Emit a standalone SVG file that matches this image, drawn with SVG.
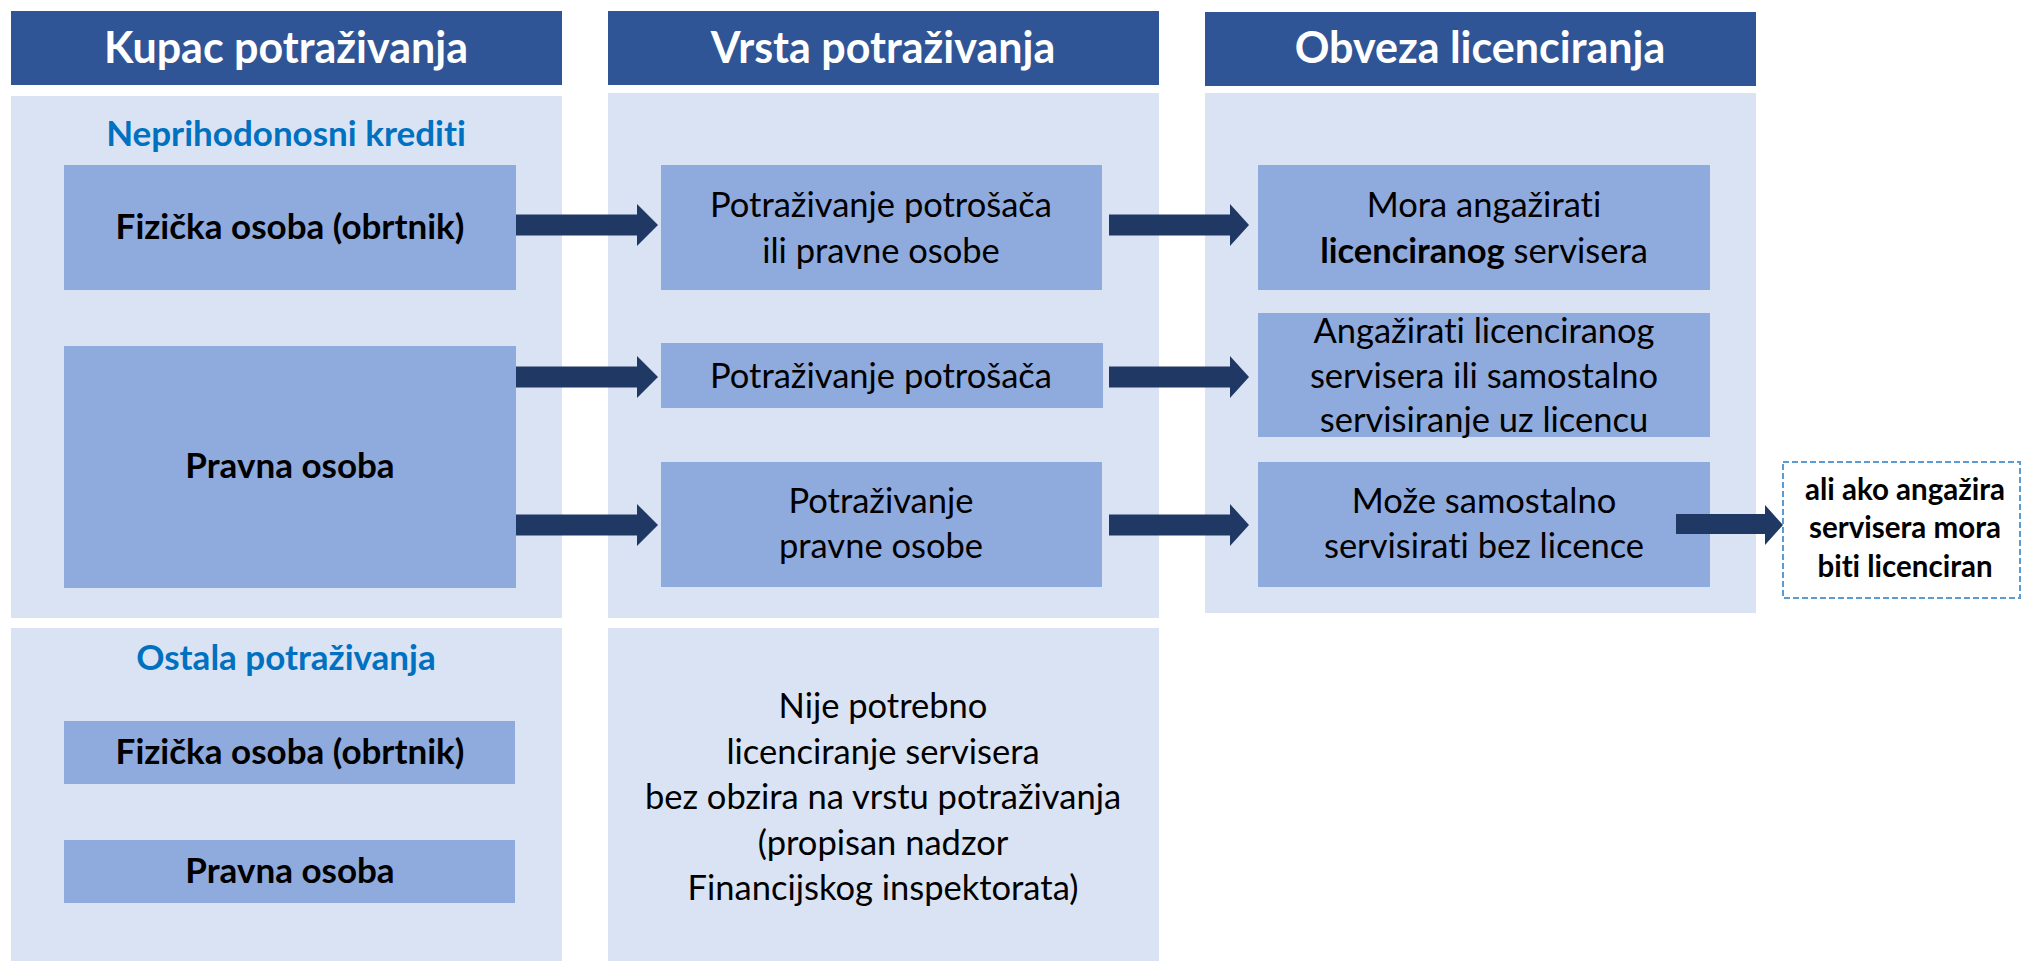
<svg xmlns="http://www.w3.org/2000/svg" width="2024" height="961" viewBox="0 0 2024 961">
<style>
text{font-variant-ligatures:none;font-feature-settings:"liga" 0,"dlig" 0}
.hdr{fill:#2f5597}
.pnl{fill:#dae3f3}
.box{fill:#8faadc}
.ht{font-family:Lato,"Liberation Sans",sans-serif;font-weight:bold;font-size:43px;fill:#fff;text-anchor:middle}
.bt{font-family:Lato,"Liberation Sans",sans-serif;font-size:34.5px;fill:#000;text-anchor:middle}
.bb{font-family:Lato,"Liberation Sans",sans-serif;font-size:35px;font-weight:bold;fill:#000;text-anchor:middle}
.st{font-family:Lato,"Liberation Sans",sans-serif;font-size:35px;font-weight:bold;fill:#0070c0;text-anchor:middle}
.nt{font-family:Lato,"Liberation Sans",sans-serif;font-size:29.5px;font-weight:bold;fill:#000;text-anchor:middle}
.arr{fill:#203864}
</style>
<g id="col-kupac">
<rect class="hdr" x="11" y="11" width="551" height="74"/>
<text class="ht" x="286" y="63">Kupac potraživanja</text>
<rect class="pnl" x="11" y="96" width="551" height="522"/>
<text class="st" x="286" y="146">Neprihodonosni krediti</text>
<rect class="pnl" x="11" y="628" width="551" height="333"/>
<text class="st" x="286" y="670">Ostala potraživanja</text>
</g>
<g id="col-vrsta">
<rect class="hdr" x="608" y="11" width="551" height="74"/>
<text class="ht" x="883" y="63">Vrsta potraživanja</text>
<rect class="pnl" x="608" y="93" width="551" height="525"/>
<rect class="pnl" x="608" y="628" width="551" height="333"/>
</g>
<g id="col-obveza">
<rect class="hdr" x="1205" y="12" width="551" height="74"/>
<text class="ht" x="1480" y="63">Obveza licenciranja</text>
<rect class="pnl" x="1205" y="93" width="551" height="520"/>
</g>
<g id="n-fizicka1">
<rect class="box" x="64" y="165" width="452" height="125"/>
<text class="bb" x="290" y="239">Fizička osoba (obrtnik)</text>
</g>
<g id="n-pravna1">
<rect class="box" x="64" y="346" width="452" height="242"/>
<text class="bb" x="290" y="478">Pravna osoba</text>
</g>
<g id="n-fizicka2">
<rect class="box" x="64" y="721" width="451" height="63"/>
<text class="bb" x="290" y="764">Fizička osoba (obrtnik)</text>
</g>
<g id="n-pravna2">
<rect class="box" x="64" y="840" width="451" height="63"/>
<text class="bb" x="290" y="883">Pravna osoba</text>
</g>
<g id="n-v1">
<rect class="box" x="661" y="165" width="441" height="125"/>
<text class="bt" x="881" y="217">Potraživanje potrošača</text>
<text class="bt" x="881" y="263">ili pravne osobe</text>
</g>
<g id="n-v2">
<rect class="box" x="661" y="343" width="442" height="65"/>
<text class="bt" x="881" y="388">Potraživanje potrošača</text>
</g>
<g id="n-v3">
<rect class="box" x="661" y="462" width="441" height="125"/>
<text class="bt" x="881" y="513">Potraživanje</text>
<text class="bt" x="881" y="558">pravne osobe</text>
</g>
<g id="n-v4">
<text class="bt" x="883" y="718">Nije potrebno</text>
<text class="bt" x="883" y="764">licenciranje servisera</text>
<text class="bt" x="883" y="809">bez obzira na vrstu potraživanja</text>
<text class="bt" x="883" y="855">(propisan nadzor</text>
<text class="bt" x="883" y="900">Financijskog inspektorata)</text>
</g>
<g id="n-o1">
<rect class="box" x="1258" y="165" width="452" height="125"/>
<text class="bt" x="1484" y="217">Mora angažirati</text>
<text class="bt" x="1484" y="263"><tspan font-weight="bold">licenciranog</tspan> servisera</text>
</g>
<g id="n-o2">
<rect class="box" x="1258" y="313" width="452" height="124"/>
<text class="bt" x="1484" y="343">Angažirati licenciranog</text>
<text class="bt" x="1484" y="388">servisera ili samostalno</text>
<text class="bt" x="1484" y="432">servisiranje uz licencu</text>
</g>
<g id="n-o3">
<rect class="box" x="1258" y="462" width="452" height="125"/>
<text class="bt" x="1484" y="513">Može samostalno</text>
<text class="bt" x="1484" y="558">servisirati bez licence</text>
</g>
<g id="n-note">
<rect x="1783" y="462" width="237" height="136" fill="#fff" stroke="#5b9bd5" stroke-width="2" stroke-dasharray="6,3"/>
<text class="nt" x="1905" y="500">ali ako angažira</text>
<text class="nt" x="1905" y="538">servisera mora</text>
<text class="nt" x="1905" y="577">biti licenciran</text>
</g>
<g id="connectors">
<polygon class="arr" points="516,214.5 637,214.5 637,204 658,225 637,246 637,235.5 516,235.5"/>
<polygon class="arr" points="516,366.5 637,366.5 637,356 658,377 637,398 637,387.5 516,387.5"/>
<polygon class="arr" points="516,514.5 637,514.5 637,504 658,525 637,546 637,535.5 516,535.5"/>
<polygon class="arr" points="1109,214.5 1230,214.5 1230,204 1249,225 1230,246 1230,235.5 1109,235.5"/>
<polygon class="arr" points="1109,366.5 1230,366.5 1230,356 1249,377 1230,398 1230,387.5 1109,387.5"/>
<polygon class="arr" points="1109,514.5 1230,514.5 1230,504 1249,525 1230,546 1230,535.5 1109,535.5"/>
<polygon class="arr" points="1676,514 1765,514 1765,505 1783,525 1765,545 1765,534 1676,534"/>
</g>
</svg>
